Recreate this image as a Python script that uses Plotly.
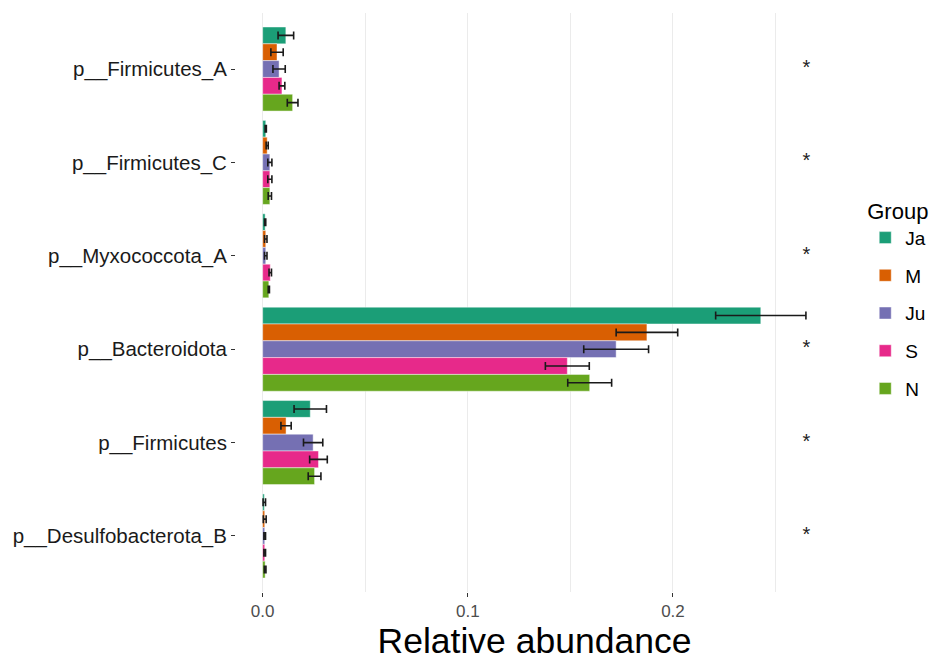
import plotly.graph_objects as go

categories = ["p__Firmicutes_A", "p__Firmicutes_C", "p__Myxococcota_A",
              "p__Bacteroidota", "p__Firmicutes", "p__Desulfobacterota_B"]
groups = ["Ja", "M", "Ju", "S", "N"]
colors = ["#1B9E77", "#D95F02", "#7570B3", "#E7298A", "#66A61E"]

Ja = [0.0113, 0.0015, 0.0012, 0.2428, 0.0232, 0.0008]
Ja_se = [0.0038, 0.0003, 0.0003, 0.0220, 0.0079, 0.0006]
M = [0.0070, 0.0022, 0.0015, 0.1873, 0.0114, 0.0010]
M_se = [0.0030, 0.0005, 0.0006, 0.0150, 0.0025, 0.0007]
Ju = [0.0080, 0.0035, 0.0015, 0.1723, 0.0246, 0.0010]
Ju_se = [0.0030, 0.0010, 0.0006, 0.0158, 0.0047, 0.0004]
S = [0.0094, 0.0035, 0.0037, 0.1485, 0.0272, 0.0010]
S_se = [0.0014, 0.0010, 0.0006, 0.0107, 0.0043, 0.0004]
N = [0.0146, 0.0035, 0.0030, 0.1594, 0.0253, 0.0012]
N_se = [0.0026, 0.0008, 0.0003, 0.0107, 0.0031, 0.0004]

sig_labels = ["*", "*", "*", "*", "*", "*"]
sig_x = 0.265

x_tickvals = [0.0, 0.1, 0.2]
x_ticktext = ["0.0", "0.1", "0.2"]

values = [Ja, M, Ju, S, N]
errors = [Ja_se, M_se, Ju_se, S_se, N_se]

fig = go.Figure()
for g, c, v, e in zip(groups, colors, values, errors):
    fig.add_trace(go.Bar(
        y=categories, x=v, name=g, orientation="h",
        legendgroup=g,
        marker=dict(color=c, line=dict(color="rgba(255,255,255,0.45)", width=1)),
        error_x=dict(type="data", array=e, color="#1a1a1a", thickness=1.6, width=4),
    ))

fig.add_trace(go.Scatter(
    x=[sig_x] * len(categories), y=categories, mode="text", text=sig_labels,
    textposition="middle center", textfont=dict(size=20, color="#222222", family="Liberation Sans, Arial"),
    showlegend=False, hoverinfo="skip",
))

fig.update_layout(
    width=934, height=658,
    barmode="group", bargap=0.1, bargroupgap=0,
    plot_bgcolor="white", paper_bgcolor="white",
    margin=dict(l=228, r=109, t=5, b=74, autoexpand=False),
    font=dict(family="Liberation Sans, Arial", color="#000000"),
    legend=dict(
        title=dict(text="Group", font=dict(size=22, color="#000000")),
        font=dict(size=19, color="#000000"),
        x=1.054, xanchor="left", y=0.694, yanchor="top",
        tracegroupgap=10, traceorder="grouped",
        bgcolor="rgba(0,0,0,0)",
    ),
    xaxis=dict(
        range=[-0.013, 0.278], automargin=False,
        tickvals=x_tickvals, ticktext=x_ticktext,
        tickfont=dict(size=17, color="#4D4D4D"),
        ticks="outside", ticklen=4, tickcolor="#333333", tickwidth=1,
        showgrid=True, gridcolor="#EBEBEB", gridwidth=1.2,
        minor=dict(dtick=0.05, tick0=0, showgrid=True, gridcolor="#EBEBEB", gridwidth=1.2),
        zeroline=False, showline=False,
        title=dict(text="Relative abundance", font=dict(size=35.5, color="#000000"), standoff=7),
    ),
    yaxis=dict(
        categoryorder="array", categoryarray=categories, automargin=False,
        range=[5.6, -0.6],
        tickfont=dict(size=20.5, color="#1a1a1a"),
        ticks="outside", ticklen=4, tickcolor="#333333",
        showgrid=False, zeroline=False, showline=False,
    ),
)

fig.write_html("out.html")
